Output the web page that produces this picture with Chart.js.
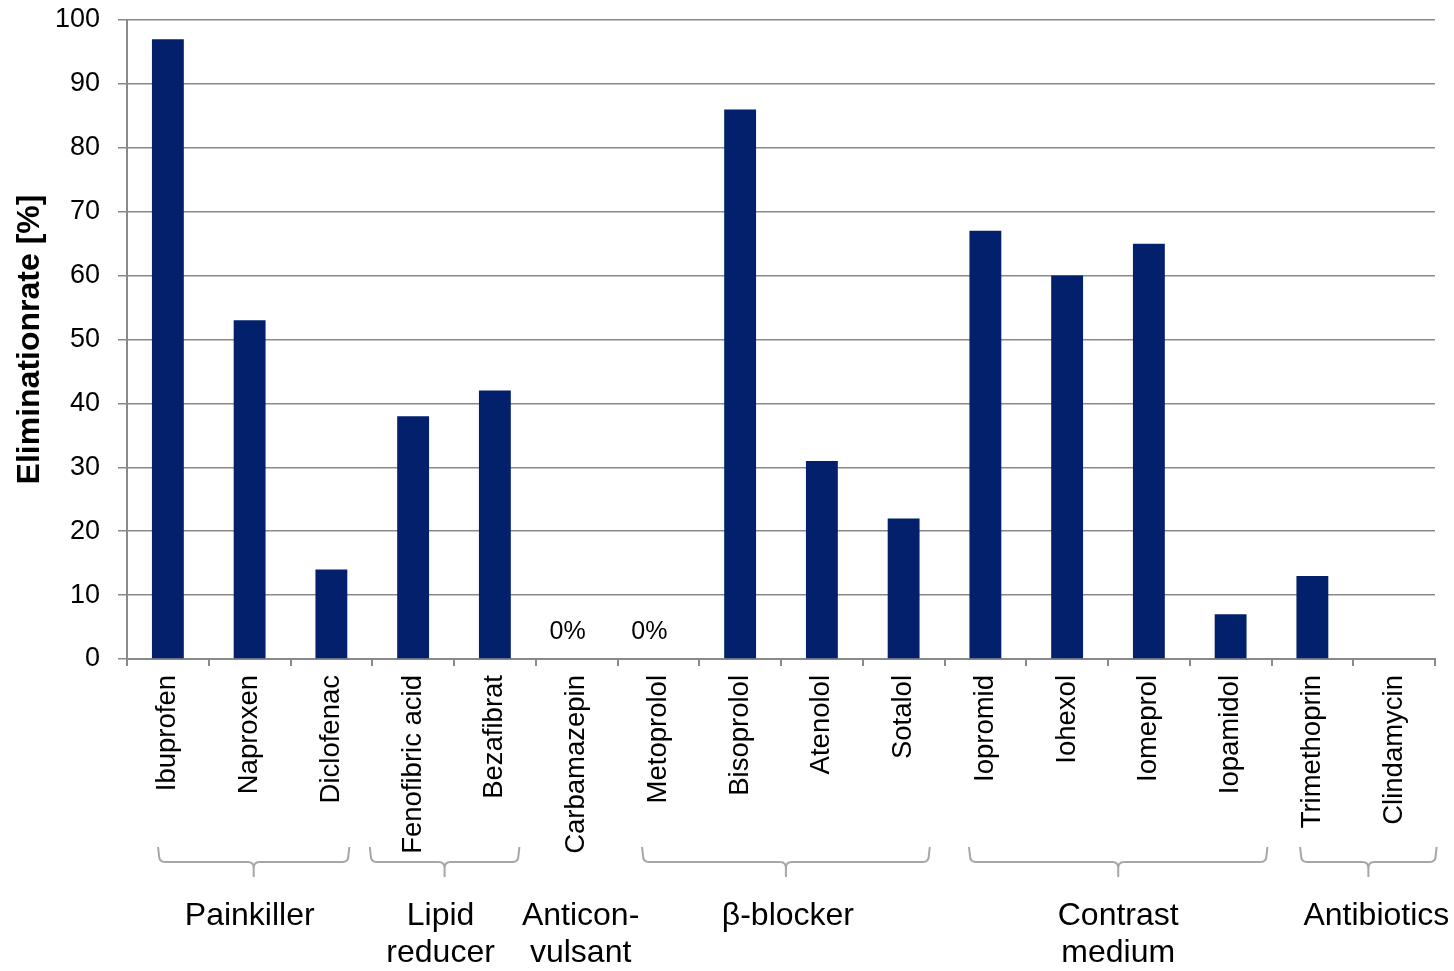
<html><head><meta charset="utf-8">
<script src="https://cdn.jsdelivr.net/npm/chart.js@4.4.1/dist/chart.umd.min.js"></script>
<style>
 body { margin:0; background:#fff; }
</style>
</head>
<body>
<canvas id="myChart" width="1454" height="971"></canvas>
<script>
// data
var categories = ['Ibuprofen', 'Naproxen', 'Diclofenac', 'Fenofibric acid', 'Bezafibrat',
  'Carbamazepin', 'Metoprolol', 'Bisoprolol', 'Atenolol', 'Sotalol',
  'Iopromid', 'Iohexol', 'Iomeprol', 'Iopamidol', 'Trimethoprin', 'Clindamycin'];
var eliminationRate = [97, 53, 14, 38, 42, 0, 0, 86, 31, 22, 67, 60, 65, 7, 13, null];
var groupNames = [['Painkiller'], ['Lipid', 'reducer'], ['Anticon-', 'vulsant'], ['\u03b2-blocker'], ['Contrast', 'medium'], ['Antibiotics']];
var groupRanges = [[0, 2], [3, 4], [5, 5], [6, 9], [10, 13], [14, 15]];
var yMin = 0, yMax = 100, yStep = 10;

var fontFam = 'Arial, "Liberation Sans", sans-serif';
var gray = '#898989';

// brackets under the category labels (hand drawn in the original, so spans are loose)
var groupPlugin = {
  id: 'groups',
  afterDraw: function(chart, args, opts) {
    var ctx = chart.ctx;
    var x = chart.scales.x;
    var w = (x.right - x.left) / categories.length;
    var px = function(v) { return x.left + (v + 0.5) * w; };
    var base = chart.chartArea.bottom;
    ctx.save();

    // "0%" on measured zero values
    ctx.font = '25px ' + fontFam;
    ctx.fillStyle = '#000';
    ctx.textAlign = 'center';
    ctx.textBaseline = 'middle';
    eliminationRate.forEach(function(v, i) {
      if (v === 0) ctx.fillText('0%', x.getPixelForValue(i) - 9, base - 27);
    });

    ctx.strokeStyle = '#a6a6a6';
    ctx.lineWidth = 2;
    ctx.font = '32px ' + fontFam;
    groupNames.forEach(function(lines, g) {
      var span = opts.spans[g];
      var cx;
      if (span) {
        var x1 = px(span[0]), x2 = px(span[1]);
        cx = (x1 + x2) / 2;
        var yt = base + 188, ym = base + 203, ye = base + 218, r = 6;
        ctx.beginPath();
        ctx.moveTo(x1, yt);
        ctx.lineTo(x1 + 1, ym - r);
        ctx.quadraticCurveTo(x1 + 1, ym, x1 + r + 1, ym);
        ctx.lineTo(cx - r, ym);
        ctx.quadraticCurveTo(cx, ym, cx, ym + r);
        ctx.lineTo(cx, ye);
        ctx.moveTo(x2, yt);
        ctx.lineTo(x2 - 1, ym - r);
        ctx.quadraticCurveTo(x2 - 1, ym, x2 - r - 1, ym);
        ctx.lineTo(cx + r, ym);
        ctx.quadraticCurveTo(cx, ym, cx, ym + r);
        ctx.stroke();
      } else {
        var rg = groupRanges[g];
        cx = px((rg[0] + rg[1]) / 2);
      }
      cx += opts.labelDx[g];
      lines.forEach(function(t, k) {
        ctx.fillText(t, cx, base + 257 + k * 37);
      });
    });
    ctx.restore();
  }
};

var ctx = document.getElementById('myChart');
var myChart = new Chart(ctx, {
  type: 'bar',
  data: {
    labels: categories,
    datasets: [{
      label: 'Eliminationrate',
      backgroundColor: '#02206b',
      data: eliminationRate,
      barPercentage: 0.39,
      categoryPercentage: 1
    }]
  },
  options: {
    responsive: false,
    animation: false,
    layout: { padding: { top: 20, right: 19, left: 0, bottom: 0 } },
    plugins: {
      legend: { display: false },
      tooltip: { enabled: false },
      groups: {
        spans: [[-0.12, 2.22], [2.47, 4.3], null, [5.8, 9.32], [9.8, 13.45], [13.85, 15.52]],
        labelDx: [-4, -4, 4, 2, 0, 8]
      }
    },
    scales: {
      x: {
        afterFit: function(s) { s.height = 312; s.paddingLeft = 0; s.paddingRight = 0; },
        grid: { display: true, drawOnChartArea: false, drawTicks: true, tickLength: 7, color: gray, lineWidth: 2, offset: true },
        border: { display: true, color: gray, width: 2 },
        ticks: { color: '#000', font: { family: fontFam, size: 27.5 }, minRotation: 90, maxRotation: 90, padding: 9, autoSkip: false }
      },
      y: {
        min: yMin, max: yMax,
        afterFit: function(s) { s.width = 127; s.paddingTop = 0; s.paddingBottom = 0; },
        grid: { color: gray, lineWidth: 1.5, drawTicks: true, tickLength: 9 },
        border: { display: true, color: gray, width: 2 },
        ticks: { stepSize: yStep, color: '#000', font: { family: fontFam, size: 27 }, padding: 18 },
        title: { display: true, text: 'Eliminationrate [%]', color: '#000', font: { family: fontFam, size: 32, weight: 'bold' }, padding: { top: 11, bottom: 0 } }
      }
    }
  },
  plugins: [groupPlugin]
});
</script>
</body></html>
